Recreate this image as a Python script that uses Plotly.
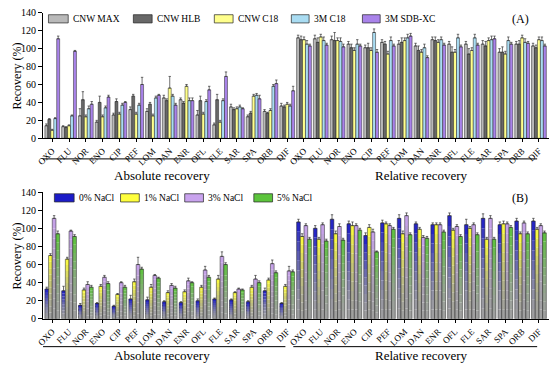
import plotly.graph_objects as go

# ---------------- data ----------------
compounds = ["OXO", "FLU", "NOR", "ENO", "CIP", "PEF", "LOM", "DAN",
             "ENR", "OFL", "FLE", "SAR", "SPA", "ORB", "DIF"]
recovery_types = ["Absolute recovery", "Relative recovery"]
x_labels = compounds + compounds  # absolute block then relative block

# Panel (A): SPE cartridges  (absolute 15 values + relative 15 values)
cnw_max = [14, 13, 25, 18, 26, 32, 30, 45, 43, 26, 15, 35, 24, 30, 36,
           112, 111, 110, 105, 101, 107, 105, 103, 110, 105, 105, 105, 96, 105, 103]
cnw_hlb = [21, 12, 43, 40, 41, 47, 38, 42, 39, 42, 43, 32, 28, 28, 35,
           110, 107, 109, 101, 101, 105, 107, 98, 109, 96, 94, 103, 96, 105, 101]
cnw_c18 = [9, 14, 24, 24, 27, 27, 25, 56, 58, 27, 18, 33, 47, 31, 38,
           110, 113, 109, 98, 98, 94, 109, 96, 107, 96, 98, 109, 94, 112, 110]
m3_c18 = [22, 25, 33, 34, 37, 37, 45, 47, 42, 41, 42, 35, 48, 58, 36,
          105, 109, 108, 105, 118, 109, 112, 101, 110, 112, 112, 110, 109, 107, 109]
m3_sdb = [111, 97, 38, 46, 40, 60, 48, 37, 42, 54, 69, 33, 44, 61, 53,
          103, 104, 102, 103, 96, 103, 114, 90, 104, 102, 104, 111, 105, 106, 103]

err_cnw_max = [2, 1, 8, 2, 2, 3, 3, 3, 2, 5, 2, 3, 2, 2, 3,
               3, 4, 4, 3, 3, 3, 4, 3, 3, 3, 3, 4, 4, 3, 3]
err_cnw_hlb = [1, 1, 9, 7, 3, 2, 2, 2, 2, 5, 6, 2, 2, 1, 2,
               4, 5, 9, 4, 5, 3, 5, 5, 4, 6, 6, 5, 6, 4, 3]
err_cnw_c18 = [1, 1, 2, 2, 2, 2, 2, 13, 2, 2, 2, 2, 2, 2, 2,
               3, 3, 3, 3, 3, 3, 3, 3, 3, 3, 3, 3, 3, 3, 3]
err_m3_c18 = [1, 1, 3, 2, 2, 2, 2, 2, 3, 2, 2, 2, 2, 2, 2,
              4, 4, 4, 5, 4, 4, 4, 4, 3, 4, 4, 4, 4, 4, 4]
err_m3_sdb = [3, 1, 3, 2, 1, 8, 1, 2, 3, 4, 5, 1, 4, 4, 5,
              2, 2, 3, 2, 3, 2, 3, 2, 2, 2, 2, 3, 2, 2, 2]

# Panel (B): NaCl content
nacl_0 = [33, 31, 15, 17, 14, 22, 21, 19, 18, 20, 22, 21, 19, 31, 17,
          107, 100, 110, 105, 92, 106, 111, 105, 104, 114, 104, 111, 104, 108, 108]
nacl_1 = [70, 66, 32, 36, 27, 41, 35, 29, 30, 35, 44, 29, 35, 43, 36,
          91, 88, 94, 103, 101, 105, 94, 99, 104, 98, 100, 88, 105, 94, 99]
nacl_3 = m3_sdb
nacl_5 = [94, 91, 35, 39, 35, 55, 45, 34, 40, 46, 60, 32, 40, 51, 52,
          88, 86, 87, 98, 74, 99, 93, 89, 96, 91, 93, 88, 101, 94, 95]

err_nacl_0 = [2, 5, 2, 1, 1, 4, 3, 1, 1, 2, 1, 1, 1, 3, 1,
              3, 3, 5, 3, 3, 3, 4, 2, 2, 3, 6, 5, 3, 3, 3]
err_nacl_1 = [2, 2, 2, 2, 1, 3, 3, 2, 2, 2, 4, 1, 2, 2, 2,
              3, 2, 3, 4, 3, 2, 3, 2, 2, 2, 2, 2, 3, 2, 2]
err_nacl_3 = err_m3_sdb
err_nacl_5 = [3, 2, 2, 2, 2, 2, 1, 2, 1, 2, 2, 1, 2, 2, 2,
              2, 2, 2, 2, 1, 2, 2, 2, 2, 2, 2, 2, 2, 2, 2]

series_a = [("CNW MAX", cnw_max, err_cnw_max), ("CNW HLB", cnw_hlb, err_cnw_hlb),
            ("CNW C18", cnw_c18, err_cnw_c18), ("3M C18", m3_c18, err_m3_c18),
            ("3M SDB-XC", m3_sdb, err_m3_sdb)]
series_b = [("0% NaCl", nacl_0, err_nacl_0), ("1% NaCl", nacl_1, err_nacl_1),
            ("3% NaCl", nacl_3, err_nacl_3), ("5% NaCl", nacl_5, err_nacl_5)]

# ---------------- style ----------------
W, H = 550, 372
FONT = "Liberation Serif, Times New Roman, serif"
colors_a = ["#b9b9b9", "#686868", "#ffff8c", "#a9dcf2", "#a983ea"]
colors_b = ["#1c1cc8", "#ffff3c", "#c9a3ee", "#5cc43c"]
grey_b = (160, 160, 160)
GROUP_W = 0.88
xpos = list(range(len(x_labels)))


def px_x(p):
    return p / W


def px_y(p):
    return 1 - p / H


def hex_rgb(h):
    h = h.lstrip("#")
    return tuple(int(h[i:i + 2], 16) for i in (0, 2, 4))


fig = go.Figure()

# Panel A bars
n = len(series_a)
bw = GROUP_W / n
for i, (name, vals, err) in enumerate(series_a):
    fig.add_trace(go.Bar(
        x=xpos, y=vals, name=name, xaxis="x", yaxis="y",
        offset=-GROUP_W / 2 + i * bw, width=bw,
        marker=dict(color=colors_a[i], line=dict(color="#222222", width=0.5)),
        error_y=dict(type="data", array=err, arrayminus=[0] * len(err), symmetric=False,
                     color="#333333", thickness=0.7, width=1.2),
        showlegend=False))

# Panel B bars with colour-to-grey gradient (stacked layers from the data values)
n = len(series_b)
bw = GROUP_W / n
NSEG = 10
for i, (name, vals, err) in enumerate(series_b):
    c_top = hex_rgb(colors_b[i])
    off = -GROUP_W / 2 + i * bw
    for k in range(NSEG):
        t = ((k + 0.5) / NSEG) ** 1.6
        rgb = tuple(int(grey_b[j] + (c_top[j] - grey_b[j]) * t) for j in range(3))
        fig.add_trace(go.Bar(
            x=xpos, y=[v / NSEG for v in vals], base=[v * k / NSEG for v in vals],
            xaxis="x2", yaxis="y2", offset=off, width=bw,
            marker=dict(color="rgb(%d,%d,%d)" % rgb, line=dict(width=0)),
            showlegend=False, hoverinfo="skip"))
    fig.add_trace(go.Bar(
        x=xpos, y=vals, name=name, xaxis="x2", yaxis="y2", offset=off, width=bw,
        marker=dict(color="rgba(0,0,0,0)", line=dict(color="#222222", width=0.5)),
        error_y=dict(type="data", array=err, arrayminus=[0] * len(err), symmetric=False,
                     color="#333333", thickness=0.7, width=1.2),
        showlegend=False))

xr = [-0.55, 29.6]
xdom = [36.5 / W, 549 / W]
common_x = dict(range=xr, domain=xdom, showline=True, linecolor="black", linewidth=1,
                ticks="outside", ticklen=3, tickcolor="black", tickvals=xpos,
                ticktext=x_labels, tickangle=-45, showgrid=False, zeroline=False,
                tickfont=dict(family=FONT, size=9, color="black"))
common_y = dict(range=[0, 140], dtick=20, showline=True, linecolor="black", linewidth=1,
                ticks="outside", ticklen=4, tickcolor="black", showgrid=False,
                zeroline=False, tickfont=dict(family=FONT, size=10, color="black"))

fig.update_layout(
    width=W, height=H, margin=dict(l=0, r=0, t=0, b=0),
    paper_bgcolor="white", plot_bgcolor="white", barmode="overlay",
    font=dict(family=FONT, color="black"),
    xaxis=dict(anchor="y", **common_x),
    yaxis=dict(anchor="x", domain=[px_y(136.7), px_y(7)], **common_y),
    xaxis2=dict(anchor="y2", **common_x),
    yaxis2=dict(anchor="x2", domain=[px_y(323.3), px_y(192.3)], **common_y),
)

shapes = []
annotations = []

# manual legends
leg_a_boxes = [(42, 62), (128, 147), (210, 229), (288, 306), (360, 378)]
for (x0, x1), (name, _, _), col in zip(leg_a_boxes, series_a, colors_a):
    shapes.append(dict(type="rect", xref="paper", yref="paper",
                       x0=px_x(x0), x1=px_x(x1), y0=px_y(17.5), y1=px_y(9),
                       fillcolor=col, line=dict(color="#222222", width=0.7)))
    annotations.append(dict(text=name, xref="paper", yref="paper", x=px_x(x1 + 2.5),
                            y=px_y(13.5), xanchor="left", yanchor="middle", showarrow=False,
                            font=dict(family=FONT, size=9.5, color="black")))
leg_b_boxes = [(48, 68), (115, 134), (180, 199), (250, 269)]
for (x0, x1), (name, _, _), col in zip(leg_b_boxes, series_b, colors_b):
    shapes.append(dict(type="rect", xref="paper", yref="paper",
                       x0=px_x(x0), x1=px_x(x1), y0=px_y(202.5), y1=px_y(194),
                       fillcolor=col, line=dict(color="#222222", width=0.7)))
    annotations.append(dict(text=name, xref="paper", yref="paper", x=px_x(x1 + 2.5),
                            y=px_y(198.5), xanchor="left", yanchor="middle", showarrow=False,
                            font=dict(family=FONT, size=9.5, color="black")))

# panel tags
for tag, yy in (("(A)", 13.5), ("(B)", 198.5)):
    annotations.append(dict(text=tag, xref="paper", yref="paper", x=px_x(520), y=px_y(yy),
                            xanchor="center", yanchor="middle", showarrow=False,
                            font=dict(family=FONT, size=12, color="black")))

# y titles
for yy in (72, 258):
    annotations.append(dict(text="Recovery (%)", xref="paper", yref="paper", x=px_x(10),
                            y=px_y(yy), textangle=-90, xanchor="center", yanchor="middle",
                            showarrow=False, font=dict(family=FONT, size=12, color="black")))

# group brackets and labels
for line_y, text_y in ((158, 175), (352, 361.5)):
    for (x0, x1), xc, label in (((36.5, 282), 157, recovery_types[0]),
                                ((290, 537), 420, recovery_types[1])):
        shapes.append(dict(type="line", xref="paper", yref="paper", x0=px_x(x0), x1=px_x(x1),
                           y0=px_y(line_y), y1=px_y(line_y), line=dict(color="black", width=1)))
        annotations.append(dict(text=label, xref="paper", yref="paper", x=px_x(xc),
                                y=px_y(text_y), xanchor="center", yanchor="middle",
                                showarrow=False, font=dict(family=FONT, size=13, color="black")))

fig.update_layout(shapes=shapes, annotations=annotations)
fig.write_html("out.html", config={"displayModeBar": False},
               post_script="document.body.style.margin='0';document.body.style.overflow='hidden';")
